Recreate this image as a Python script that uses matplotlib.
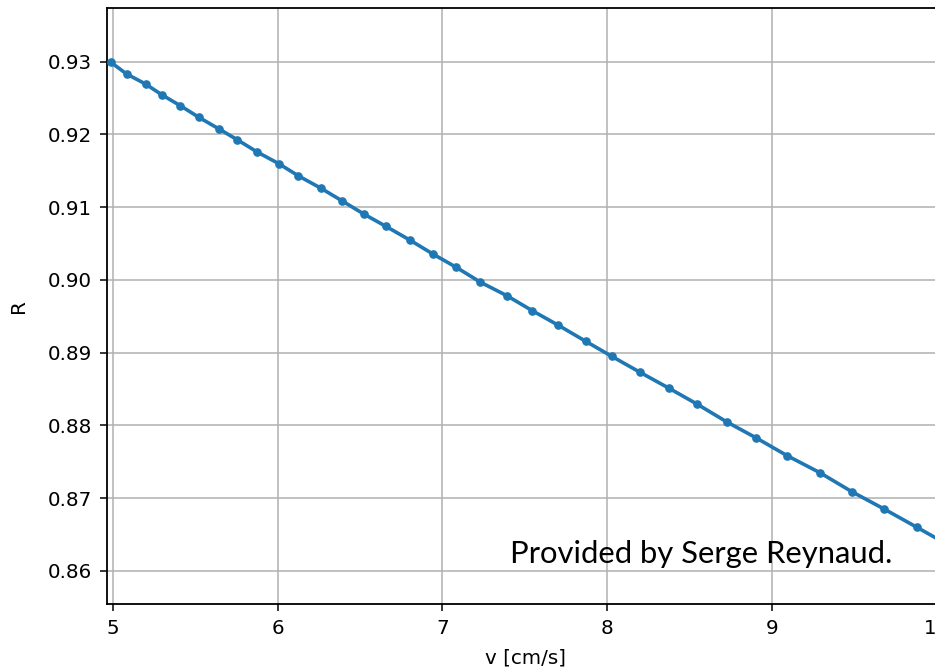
import matplotlib
matplotlib.use("Agg")
import matplotlib.pyplot as plt

# Velocity samples [cm/s] and the computed coefficient R
v_cm_s = [4.986, 5.081, 5.196, 5.295, 5.408, 5.521, 5.641, 5.754, 5.873, 6.004,
          6.125, 6.259, 6.387, 6.522, 6.656, 6.802, 6.943, 7.085, 7.230, 7.390,
          7.546, 7.704, 7.870, 8.028, 8.200, 8.376, 8.548, 8.727, 8.906, 9.093,
          9.292, 9.486, 9.682, 9.881, 10.087]
R_vals = [0.9299, 0.92831, 0.92693, 0.92545, 0.92394, 0.92234, 0.92077, 0.91926,
          0.91760, 0.91600, 0.91430, 0.91264, 0.91091, 0.90906, 0.90737, 0.90548,
          0.90355, 0.90172, 0.89970, 0.89785, 0.89577, 0.89377, 0.89157, 0.88951,
          0.88731, 0.88512, 0.88292, 0.88049, 0.87829, 0.87586, 0.87352, 0.87091,
          0.86853, 0.86602, 0.8634]

x_ticks = [5, 6, 7, 8, 9, 10]
y_ticks = [0.86, 0.87, 0.88, 0.89, 0.90, 0.91, 0.92, 0.93]
y_ticklabels = ["0.86", "0.87", "0.88", "0.89", "0.90", "0.91", "0.92", "0.93"]

W, H = 935, 672
fig = plt.figure(figsize=(W / 100, H / 100), dpi=100)
left, right, top, bottom = 107, 944, 8, 604
ax = fig.add_axes([left / W, 1 - bottom / H, (right - left) / W, (bottom - top) / H])

ax.plot(v_cm_s, R_vals, color="#1f77b4", lw=2.6, marker="o", ms=5.2,
        clip_on=True, zorder=3)

ax.set_xlim(4.9617, 10.047)
ax.set_ylim(0.85546, 0.93738)
ax.set_xticks(x_ticks)
ax.set_xticklabels([str(t) for t in x_ticks])
ax.set_yticks(y_ticks)
ax.set_yticklabels(y_ticklabels)
ax.grid(True, color="#b0b0b0", lw=1.1)
ax.set_axisbelow(True)
ax.tick_params(labelsize=14.3, length=5, width=1.1, pad=6)
for s in ax.spines.values():
    s.set_linewidth(1.3)

ax.set_xlabel("v [cm/s]", fontsize=14.3, labelpad=7)
ax.set_ylabel("R", fontsize=14.3, labelpad=14)

fig.text(510 / W, 1 - 563 / H, "Provided by Serge Reynaud.",
         family=["Lato", "DejaVu Sans"], fontsize=22.3, color="black",
         ha="left", va="baseline")

fig.savefig("out.png", dpi=100)
